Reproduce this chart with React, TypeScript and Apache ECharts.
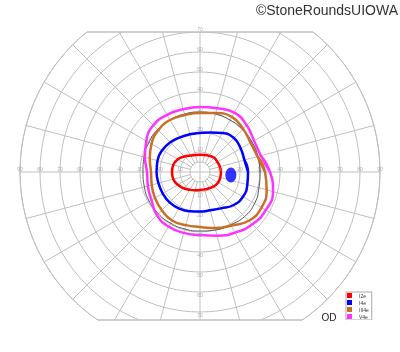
import React, { useEffect, useRef } from "react";
import * as echarts from "echarts";

// Meridians (degrees, 0 = right, counter-clockwise)
const MERIDIANS = [0, 15, 30, 45, 60, 75, 90, 105, 120, 135, 150, 165, 180, 195, 210, 225, 240, 255, 270, 285, 300, 315, 330, 345];

// Isopter eccentricities (degrees) at each meridian
const I2E = [10.5, 10.3, 10, 10, 9.3, 8.8, 8.6, 8.8, 9.5, 11, 12.8, 13.8, 14, 13.8, 12.8, 11.5, 10.3, 9.5, 9, 9, 9.3, 10, 10.5, 10.5];
const I4E = [24, 23, 23.5, 24, 22.5, 20.5, 19.5, 19.5, 20, 21, 21.8, 22, 21.7, 21.5, 21.5, 21.5, 21, 20.3, 19.8, 19.8, 21, 23.5, 24.8, 24.5];
const III4E = [32.5, 29.8, 29.2, 30.5, 31.8, 30.5, 29.5, 29.5, 30, 29.5, 28, 26, 24.5, 25, 26, 27, 28, 27.5, 27.5, 29, 31, 34.5, 35.5, 34.5];
const V4E = [35, 31.5, 31.2, 33, 34.3, 33, 32.5, 32.5, 33, 33, 31, 28.5, 26.5, 27, 28, 30.5, 31.5, 31.5, 31.5, 33, 35, 37, 38, 37.8];
const REFERENCE = [30, 30, 30, 30, 30, 30, 30, 30, 30, 30, 29.5, 29, 28.5, 28.8, 29.3, 29.5, 29.5, 29.5, 29.5, 30, 30.5, 31.5, 31.5, 30.5];
// Blind spot (I4e) centre: [eccentricity, meridian]
const BLIND_SPOT = [[15.5, 354.5]];

const HORIZONTAL_TICKS = [10, 20, 30, 40, 50, 60, 70, 80, 90];
const VERTICAL_TICKS = [10, 20, 30, 40, 50, 60, 70];
const LEGEND_NAMES = ["I2e", "I4e", "III4e", "V4e"];
const COLORS = ["#ff0000", "#0000ff", "#c8702a", "#ff33ff"];

const TITLE = "©StoneRoundsUIOWA";
const EYE = "OD";

// layout
const CX = 200;
const CY = 172;
const R = 180;
const MAX_DEG = 90;
const PX = R / MAX_DEG;
const CLIP_TOP_DEG = 70;
const CLIP_BOTTOM_DEG = 74;
const INNER_RING_DEG = 5;
const GRID = "#bfbfbf";

const loop = (radii: number[]) => {
  const pts = MERIDIANS.map((a, i) => [radii[i], a]);
  pts.push(pts[0], pts[1]);
  return pts;
};

export default function App() {
  const ref = useRef<HTMLDivElement>(null);
  useEffect(() => {
    if (!ref.current) return;
    const chart = echarts.init(ref.current, null, { renderer: "svg" });
    const topY = CY - CLIP_TOP_DEG * PX;
    const botY = CY + CLIP_BOTTOM_DEG * PX;
    const topHalf = Math.sqrt(R * R - (CY - topY) ** 2);
    const botHalf = Math.sqrt(R * R - (botY - CY) ** 2);
    const innerR = INNER_RING_DEG * PX;

    const isopter = (name: string, radii: number[], color: string, width: number, z: number) => ({
      name,
      type: "line",
      coordinateSystem: "polar",
      data: loop(radii),
      smooth: 0.5,
      showSymbol: false,
      symbol: "none",
      silent: true,
      z,
      lineStyle: { color, width },
      itemStyle: { color },
    });

    const tickSeries = (ticks: number[], angle: number, position: string) => ({
      type: "scatter",
      coordinateSystem: "polar",
      data: ticks.map((t) => [t, angle]),
      symbolSize: 1,
      silent: true,
      z: 12,
      itemStyle: { color: "transparent" },
      label: {
        show: true,
        position,
        distance: 0,
        fontSize: 5,
        color: "#999",
        fontFamily: "Liberation Sans",
        formatter: (p: any) => String(p.value[0]),
      },
    });

    chart.setOption({
      animation: false,
      title: {
        text: TITLE,
        right: 2,
        top: 3,
        padding: 0,
        textStyle: { fontSize: 14, fontWeight: "normal", color: "#333", fontFamily: "Liberation Sans" },
      },
      polar: { center: [CX, CY], radius: R },
      angleAxis: {
        type: "value",
        min: 0,
        max: 360,
        interval: 15,
        startAngle: 0,
        clockwise: false,
        axisLine: { show: true, lineStyle: { color: GRID, width: 1 } },
        axisTick: { show: false },
        axisLabel: { show: false },
        splitLine: { show: true, lineStyle: { color: GRID, width: 1 } },
      },
      radiusAxis: {
        type: "value",
        min: 0,
        max: MAX_DEG,
        interval: 10,
        axisLine: { show: false },
        axisTick: { show: false },
        axisLabel: { show: false },
        splitLine: { show: true, lineStyle: { color: GRID, width: 1 } },
      },
      legend: {
        data: LEGEND_NAMES,
        orient: "vertical",
        left: 346,
        top: 292,
        icon: "rect",
        itemWidth: 5,
        itemHeight: 5,
        itemGap: 2,
        padding: [1, 3, 1, 1],
        borderColor: "#aaa",
        borderWidth: 1,
        selectedMode: false,
        textStyle: { fontSize: 5, color: "#333", padding: [0, 0, 0, 2], fontFamily: "Liberation Sans" },
      },
      graphic: [
        { type: "rect", z: 5, silent: true, shape: { x: CX - R - 3, y: 0, width: 2 * R + 6, height: topY }, style: { fill: "#fff" } },
        { type: "rect", z: 5, silent: true, shape: { x: CX - R - 3, y: botY, width: 2 * R + 6, height: 60 }, style: { fill: "#fff" } },
        { type: "line", z: 6, silent: true, shape: { x1: CX - topHalf, y1: topY, x2: CX + topHalf, y2: topY }, style: { stroke: GRID, lineWidth: 1.5 } },
        { type: "line", z: 6, silent: true, shape: { x1: CX - botHalf, y1: botY, x2: CX + botHalf, y2: botY }, style: { stroke: GRID, lineWidth: 1.5 } },
        { type: "circle", z: 5, silent: true, shape: { cx: CX, cy: CY, r: innerR }, style: { fill: "#fff", stroke: GRID, lineWidth: 1 } },
        { type: "line", z: 6, silent: true, shape: { x1: CX - innerR, y1: CY, x2: CX + innerR, y2: CY }, style: { stroke: GRID, lineWidth: 1 } },
        { type: "line", z: 6, silent: true, shape: { x1: CX, y1: CY - innerR, x2: CX, y2: CY + innerR }, style: { stroke: GRID, lineWidth: 1 } },
        {
          type: "text",
          z: 10,
          silent: true,
          x: 329,
          y: 317,
          style: { text: EYE, fontSize: 10, fill: "#222", align: "center", verticalAlign: "middle", fontFamily: "Liberation Sans" },
        },
      ],
      series: [
        isopter("reference", REFERENCE, "#555555", 1, 9),
        isopter(LEGEND_NAMES[3], V4E, COLORS[3], 2.5, 10),
        isopter(LEGEND_NAMES[2], III4E, COLORS[2], 2.5, 10),
        isopter(LEGEND_NAMES[1], I4E, COLORS[1], 2.5, 10),
        isopter(LEGEND_NAMES[0], I2E, COLORS[0], 2.5, 10),
        {
          name: "blind spot",
          type: "scatter",
          coordinateSystem: "polar",
          data: BLIND_SPOT,
          symbol: "circle",
          symbolSize: [11, 15],
          silent: true,
          z: 10,
          itemStyle: { color: COLORS[1] },
        },
        tickSeries(HORIZONTAL_TICKS, 0, "top"),
        tickSeries(HORIZONTAL_TICKS, 180, "top"),
        tickSeries(VERTICAL_TICKS, 90, "top"),
        tickSeries(VERTICAL_TICKS, 270, "bottom"),
      ],
    });
    return () => chart.dispose();
  }, []);
  return <div ref={ref} style={{ position: "fixed", left: 0, top: 0, width: 400, height: 352 }} />;
}
